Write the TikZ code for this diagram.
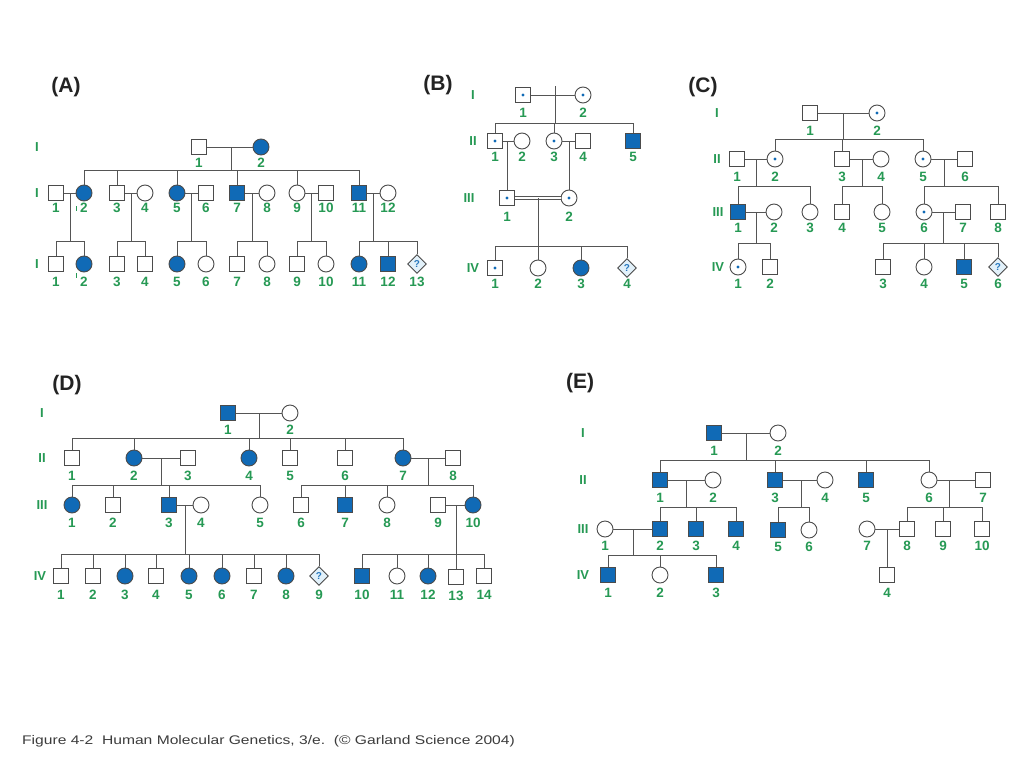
\documentclass[tikz,border=0pt]{standalone}
\usepackage{fontspec}
\setmainfont{Liberation Sans}
\usetikzlibrary{shapes.geometric,calc}
\definecolor{bluec}{RGB}{16,106,182}
\definecolor{greenc}{RGB}{38,153,84}
\definecolor{linec}{RGB}{85,85,85}
\definecolor{symc}{RGB}{75,75,75}
\definecolor{unkfill}{RGB}{226,241,250}
\definecolor{qmc}{RGB}{40,120,190}
\definecolor{titc}{RGB}{35,35,35}
\definecolor{capc}{RGB}{60,60,60}
\tikzset{
 ln/.style={draw=linec, line width=0.9pt},
 sym/.style={draw=symc, line width=0.9pt, fill=white, inner sep=0pt},
 msq/.style={rectangle, minimum size=15pt},
 fci/.style={circle, minimum size=16pt},
 aff/.style={fill=bluec},
 car/.style={path picture={\fill[bluec] (path picture bounding box.center) circle (1.7pt);}},
 qm/.style={font=\bfseries\fontsize{10}{10}\selectfont, text=qmc, inner sep=0pt},
 unk/.style={diamond, minimum size=19pt, fill=unkfill, label={[qm]center:?}},
 lab/.style={font=\bfseries\fontsize{13.5}{13.5}\selectfont, text=greenc, inner sep=0pt},
 gen/.style={font=\bfseries\fontsize{13}{13}\selectfont, text=greenc, inner sep=0pt},
 ttl/.style={font=\bfseries\fontsize{21}{21}\selectfont, text=titc, inner sep=0pt},
 tick/.style={draw=greenc, line width=0.7pt},
}
\newcommand\pedi[5]{\node[sym,#4] (#1) at (#2,#3) {}; \node[lab] (#1l) at (#2,#3+\loff) {#5};}
\newcommand\matel[2]{\draw[ln] (#1) -- (#2);}
\newcommand\sibs[6]{\coordinate (#1) at (#2); \draw[ln] (#1 |- #3) -- (#1); \draw[ln] (#4 |- #1) -- (#5 |- #1); \foreach \ch in {#6} {\draw[ln] (\ch |- #1) -- (\ch.north);}}
\begin{document}
\begin{tikzpicture}[x=1pt,y=-1pt]
\useasboundingbox (0,0) rectangle (1024,768);
\fill[white] (0,0) rectangle (1024,768);

% ---------------- Panel A ----------------
\node[ttl] (tA) at (66,87) {(A)};
\node[gen] (gA1) at (37,147) {I};
\node[gen] (gA2) at (37,193) {I};
\node[gen] (gA3) at (37,264) {I};
\def\loff{16}
\pedi{aI1}{199}{147}{msq}{1}
\pedi{aI2}{261}{147}{fci,aff}{2}
\def\loff{15}
\pedi{aII1}{56}{193}{msq}{1}
\pedi{aII2}{84}{193}{fci,aff}{2}
\pedi{aII3}{117}{193}{msq}{3}
\pedi{aII4}{145}{193}{fci}{4}
\pedi{aII5}{177}{193}{fci,aff}{5}
\pedi{aII6}{206}{193}{msq}{6}
\pedi{aII7}{237}{193}{msq,aff}{7}
\pedi{aII8}{267}{193}{fci}{8}
\pedi{aII9}{297}{193}{fci}{9}
\pedi{aII10}{326}{193}{msq}{10}
\pedi{aII11}{359}{193}{msq,aff}{11}
\pedi{aII12}{388}{193}{fci}{12}
\def\loff{17.5}
\pedi{aIII1}{56}{264}{msq}{1}
\pedi{aIII2}{84}{264}{fci,aff}{2}
\pedi{aIII3}{117}{264}{msq}{3}
\pedi{aIII4}{145}{264}{msq}{4}
\pedi{aIII5}{177}{264}{fci,aff}{5}
\pedi{aIII6}{206}{264}{fci}{6}
\pedi{aIII7}{237}{264}{msq}{7}
\pedi{aIII8}{267}{264}{fci}{8}
\pedi{aIII9}{297}{264}{msq}{9}
\pedi{aIII10}{326}{264}{fci}{10}
\pedi{aIII11}{359}{264}{fci,aff}{11}
\pedi{aIII12}{388}{264}{msq,aff}{12}
\pedi{aIII13}{417}{264}{unk}{13}
\draw[tick] (76.7,206) -- (76.7,211);
\draw[tick] (76,273) -- (76,278);
\matel{aI1}{aI2}
\matel{aII1}{aII2}\matel{aII3}{aII4}\matel{aII5}{aII6}\matel{aII7}{aII8}\matel{aII9}{aII10}\matel{aII11}{aII12}
\sibs{aS1}{231,170}{aI1}{aII2}{aII11}{aII2,aII3,aII5,aII7,aII9,aII11}
\sibs{aS2}{70,241}{aII1}{aIII1}{aIII2}{aIII1,aIII2}
\sibs{aS3}{131,241}{aII3}{aIII3}{aIII4}{aIII3,aIII4}
\sibs{aS4}{191.5,241}{aII5}{aIII5}{aIII6}{aIII5,aIII6}
\sibs{aS5}{252,241}{aII7}{aIII7}{aIII8}{aIII7,aIII8}
\sibs{aS6}{311.5,241}{aII9}{aIII9}{aIII10}{aIII9,aIII10}
\sibs{aS7}{373.5,241}{aII11}{aIII11}{aIII13}{aIII11,aIII12,aIII13}

% ---------------- Panel B ----------------
\node[ttl] (tB) at (438,85) {(B)};
\node[gen] (gB1) at (473,95) {I};
\node[gen] (gB2) at (473,141) {II};
\node[gen] (gB3) at (469,198) {III};
\node[gen] (gB4) at (473,268) {IV};
\def\loff{18}
\pedi{bI1}{523}{95}{msq,car}{1}
\pedi{bI2}{583}{95}{fci,car}{2}
\def\loff{16}
\pedi{bII1}{495}{141}{msq,car}{1}
\pedi{bII2}{522}{141}{fci}{2}
\pedi{bII3}{554}{141}{fci,car}{3}
\pedi{bII4}{583}{141}{msq}{4}
\pedi{bII5}{633}{141}{msq,aff}{5}
\def\loff{19}
\pedi{bIII1}{507}{198}{msq,car}{1}
\pedi{bIII2}{569}{198}{fci,car}{2}
\def\loff{15.5}
\pedi{bIV1}{495}{268}{msq,car}{1}
\pedi{bIV2}{538}{268}{fci}{2}
\pedi{bIV3}{581}{268}{fci,aff}{3}
\pedi{bIV4}{627}{268}{unk}{4}
\matel{bI1}{bI2}
\coordinate (bT) at (555,86);
\coordinate (bS1) at (555,123);
\draw[ln] (bT) -- (bS1);
\draw[ln] (bII1 |- bS1) -- (bII5 |- bS1);
\foreach \ch in {bII1,bII3,bII5} {\draw[ln] (\ch |- bS1) -- (\ch.north);}
\matel{bII1}{bII2}\matel{bII3}{bII4}
\draw[ln] (bIII1 |- bII1) -- (bIII1.north);
\draw[ln] (bIII2 |- bII3) -- (bIII2.north);
\draw[ln, double=white, double distance=2.2pt] (bIII1) -- (bIII2);
\coordinate (bS3) at (538,246);
\draw[ln] (bS3 |- bIII1) -- (bIV2.north);
\draw[ln] (bIV1 |- bS3) -- (bIV4 |- bS3);
\foreach \ch in {bIV1,bIV3,bIV4} {\draw[ln] (\ch |- bS3) -- (\ch.north);}

% ---------------- Panel C ----------------
\node[ttl] (tC) at (703,87) {(C)};
\node[gen] (gC1) at (717,113) {I};
\node[gen] (gC2) at (717,159) {II};
\node[gen] (gC3) at (718,212) {III};
\node[gen] (gC4) at (718,267) {IV};
\def\loff{17.5}
\pedi{cI1}{810}{113}{msq}{1}
\pedi{cI2}{877}{113}{fci,car}{2}
\pedi{cII1}{737}{159}{msq}{1}
\pedi{cII2}{775}{159}{fci,car}{2}
\pedi{cII3}{842}{159}{msq}{3}
\pedi{cII4}{881}{159}{fci}{4}
\pedi{cII5}{923}{159}{fci,car}{5}
\pedi{cII6}{965}{159}{msq}{6}
\def\loff{15.5}
\pedi{cIII1}{738}{212}{msq,aff}{1}
\pedi{cIII2}{774}{212}{fci}{2}
\pedi{cIII3}{810}{212}{fci}{3}
\pedi{cIII4}{842}{212}{msq}{4}
\pedi{cIII5}{882}{212}{fci}{5}
\pedi{cIII6}{924}{212}{fci,car}{6}
\pedi{cIII7}{963}{212}{msq}{7}
\pedi{cIII8}{998}{212}{msq}{8}
\def\loff{16.5}
\pedi{cIV1}{738}{267}{fci,car}{1}
\pedi{cIV2}{770}{267}{msq}{2}
\pedi{cIV3}{883}{267}{msq}{3}
\pedi{cIV4}{924}{267}{fci}{4}
\pedi{cIV5}{964}{267}{msq,aff}{5}
\pedi{cIV6}{998}{267}{unk}{6}
\matel{cI1}{cI2}
\sibs{cS1}{843,139}{cI1}{cII2}{cII5}{cII2,cII3,cII5}
\matel{cII1}{cII2}\matel{cII3}{cII4}\matel{cII5}{cII6}
\sibs{cS2}{756,186}{cII1}{cIII1}{cIII3}{cIII1,cIII3}
\sibs{cS3}{862,186}{cII3}{cIII4}{cIII5}{cIII4,cIII5}
\sibs{cS4}{944,186}{cII5}{cIII6}{cIII8}{cIII6,cIII8}
\matel{cIII1}{cIII2}\matel{cIII6}{cIII7}
\sibs{cS5}{756,243}{cIII1}{cIV1}{cIV2}{cIV1,cIV2}
\sibs{cS6}{943.5,243}{cIII6}{cIV3}{cIV6}{cIV3,cIV4,cIV5,cIV6}

% ---------------- Panel D ----------------
\node[ttl] (tD) at (67,385) {(D)};
\node[gen] (gD1) at (42,413) {I};
\node[gen] (gD2) at (42,458) {II};
\node[gen] (gD3) at (42,505) {III};
\node[gen] (gD4) at (40,576) {IV};
\def\loff{17}
\pedi{dI1}{228}{413}{msq,aff}{1}
\pedi{dI2}{290}{413}{fci}{2}
\def\loff{17.5}
\pedi{dII1}{72}{458}{msq}{1}
\pedi{dII2}{134}{458}{fci,aff}{2}
\pedi{dII3}{188}{458}{msq}{3}
\pedi{dII4}{249}{458}{fci,aff}{4}
\pedi{dII5}{290}{458}{msq}{5}
\pedi{dII6}{345}{458}{msq}{6}
\pedi{dII7}{403}{458}{fci,aff}{7}
\pedi{dII8}{453}{458}{msq}{8}
\def\loff{18}
\pedi{dIII1}{72}{505}{fci,aff}{1}
\pedi{dIII2}{113}{505}{msq}{2}
\pedi{dIII3}{169}{505}{msq,aff}{3}
\pedi{dIII4}{201}{505}{fci}{4}
\pedi{dIII5}{260}{505}{fci}{5}
\pedi{dIII6}{301}{505}{msq}{6}
\pedi{dIII7}{345}{505}{msq,aff}{7}
\pedi{dIII8}{387}{505}{fci}{8}
\pedi{dIII9}{438}{505}{msq}{9}
\pedi{dIII10}{473}{505}{fci,aff}{10}
\def\loff{19}
\pedi{dIV1}{61}{576}{msq}{1}
\pedi{dIV2}{93}{576}{msq}{2}
\pedi{dIV3}{125}{576}{fci,aff}{3}
\pedi{dIV4}{156}{576}{msq}{4}
\pedi{dIV5}{189}{576}{fci,aff}{5}
\pedi{dIV6}{222}{576}{fci,aff}{6}
\pedi{dIV7}{254}{576}{msq}{7}
\pedi{dIV8}{286}{576}{fci,aff}{8}
\pedi{dIV9}{319}{576}{unk}{9}
\pedi{dIV10}{362}{576}{msq,aff}{10}
\pedi{dIV11}{397}{576}{fci}{11}
\pedi{dIV12}{428}{576}{fci,aff}{12}
\pedi{dIV13}{456}{577}{msq}{13}
\pedi{dIV14}{484}{576}{msq}{14}
\matel{dI1}{dI2}
\sibs{dS1}{259,438}{dI1}{dII1}{dII7}{dII1,dII2,dII4,dII5,dII6,dII7}
\matel{dII2}{dII3}\matel{dII7}{dII8}
\sibs{dS2}{161,485}{dII2}{dIII1}{dIII5}{dIII1,dIII2,dIII3,dIII5}
\sibs{dS3}{428,485}{dII7}{dIII6}{dIII10}{dIII6,dIII7,dIII8,dIII10}
\matel{dIII3}{dIII4}\matel{dIII9}{dIII10}
\sibs{dS4}{185,554}{dIII3}{dIV1}{dIV9}{dIV1,dIV2,dIV3,dIV4,dIV5,dIV6,dIV7,dIV8,dIV9}
\coordinate (dS5) at (455,554);
\draw[ln] (dIV13 |- dIII9) -- (dIV13.north);
\draw[ln] (dIV10 |- dS5) -- (dIV14 |- dS5);
\foreach \ch in {dIV10,dIV11,dIV12,dIV14} {\draw[ln] (\ch |- dS5) -- (\ch.north);}

% ---------------- Panel E ----------------
\node[ttl] (tE) at (580,383) {(E)};
\node[gen] (gE1) at (583,433) {I};
\node[gen] (gE2) at (583,480) {II};
\node[gen] (gE3) at (583,529) {III};
\node[gen] (gE4) at (583,575) {IV};
\def\loff{17.5}
\pedi{eI1}{714}{433}{msq,aff}{1}
\pedi{eI2}{778}{433}{fci}{2}
\pedi{eII1}{660}{480}{msq,aff}{1}
\pedi{eII2}{713}{480}{fci}{2}
\pedi{eII3}{775}{480}{msq,aff}{3}
\pedi{eII4}{825}{480}{fci}{4}
\pedi{eII5}{866}{480}{msq,aff}{5}
\pedi{eII6}{929}{480}{fci}{6}
\pedi{eII7}{983}{480}{msq}{7}
\def\loff{17}
\pedi{eIII1}{605}{529}{fci}{1}
\pedi{eIII2}{660}{529}{msq,aff}{2}
\pedi{eIII3}{696}{529}{msq,aff}{3}
\pedi{eIII4}{736}{529}{msq,aff}{4}
\pedi{eIII5}{778}{530}{msq,aff}{5}
\pedi{eIII6}{809}{530}{fci}{6}
\pedi{eIII7}{867}{529}{fci}{7}
\pedi{eIII8}{907}{529}{msq}{8}
\pedi{eIII9}{943}{529}{msq}{9}
\pedi{eIII10}{982}{529}{msq}{10}
\def\loff{17.5}
\pedi{eIV1}{608}{575}{msq,aff}{1}
\pedi{eIV2}{660}{575}{fci}{2}
\pedi{eIV3}{716}{575}{msq,aff}{3}
\pedi{eIV4}{887}{575}{msq}{4}
\matel{eI1}{eI2}
\sibs{eS1}{746,460}{eI1}{eII1}{eII6}{eII1,eII3,eII5,eII6}
\matel{eII1}{eII2}\matel{eII3}{eII4}\matel{eII6}{eII7}
\sibs{eS2}{686,507}{eII1}{eIII2}{eIII4}{eIII2,eIII3,eIII4}
\sibs{eS3}{801,507}{eII3}{eIII5}{eIII6}{eIII5,eIII6}
\sibs{eS4}{949,507}{eII6}{eIII8}{eIII10}{eIII8,eIII9,eIII10}
\matel{eIII1}{eIII2}\matel{eIII7}{eIII8}
\sibs{eS5}{633,555}{eIII1}{eIV1}{eIV3}{eIV1,eIV2,eIV3}
\draw[ln] (eIV4 |- eIII7) -- (eIV4.north);

% ---------------- Caption ----------------
\node[anchor=west, inner sep=0pt, text=capc, font=\fontsize{12.5}{12.5}\selectfont] (cap) at (22,741)
  {\scalebox{1.25}[1]{Figure 4-2\ \ Human Molecular Genetics, 3/e.\ \ (© Garland Science 2004)}};
\end{tikzpicture}
\end{document}
